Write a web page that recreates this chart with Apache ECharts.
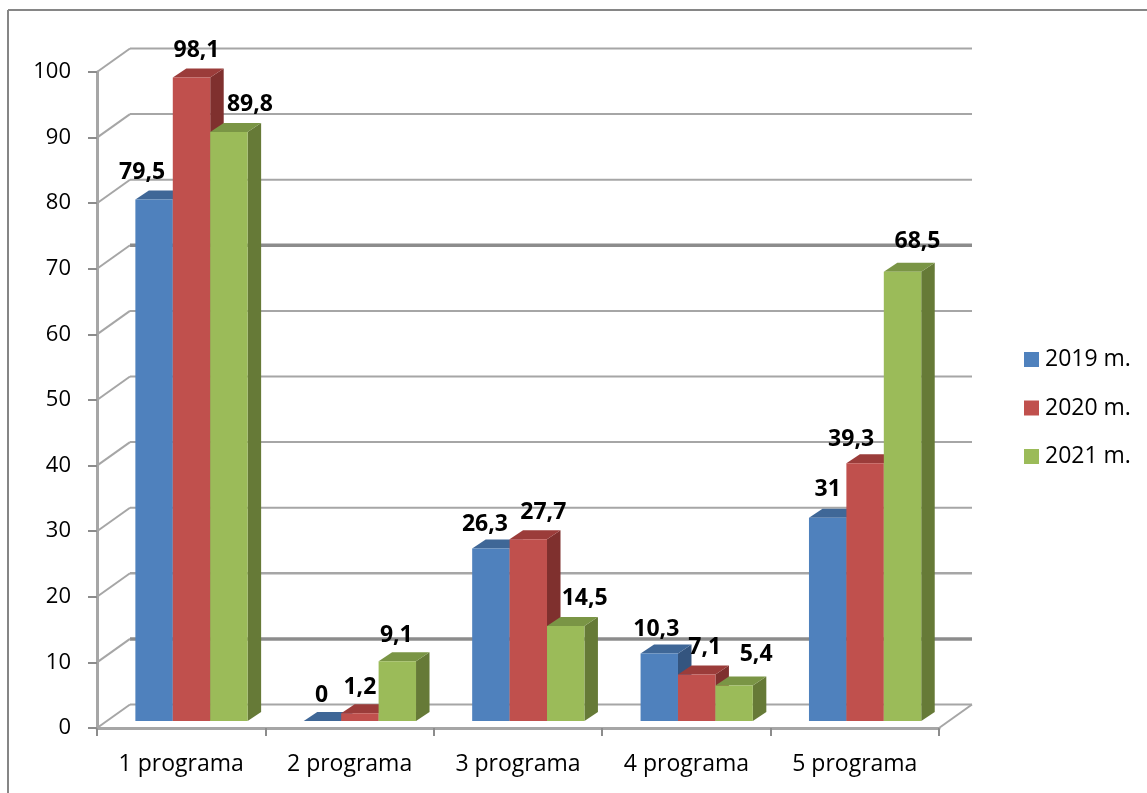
<!DOCTYPE html>
<html><head><meta charset="utf-8">
<style>html,body{margin:0;padding:0;background:#fff}#c{width:1147px;height:793px}</style>
<script src="https://cdn.jsdelivr.net/npm/echarts@6/dist/echarts.min.js"></script>
</head><body><div id="c"></div>
<script>
const categories = ['1 programa','2 programa','3 programa','4 programa','5 programa'];
const seriesNames = ['2019 m.','2020 m.','2021 m.'];
const values2019 = [79.5, 0, 26.3, 10.3, 31];
const values2020 = [98.1, 1.2, 27.7, 7.1, 39.3];
const values2021 = [89.8, 9.1, 14.5, 5.4, 68.5];
const gridTicks = [0,10,20,30,40,50,60,70,80,90,100];

// styling and layout, kept apart from the data
const faces = [
  {front:'#4f81bd', top:'#3f6797', side:'#34557f'},
  {front:'#c0504d', top:'#9b3c3a', side:'#7f302e'},
  {front:'#9bbb59', top:'#7a9545', side:'#667a37'}
];
const labelNudges = [
  [[-12,-27],[-1,-26],[-6,-24],[-3,-24],[0,-28]],
  [[5,-27],[0,-26],[15,-27],[8,-27],[-14,-24]],
  [[21,-27],[-1,-26],[19,-27],[22,-31],[15,-30]]
];
const heavyTicks = {10:3.5, 20:2.5, 70:3.5};
const wall = {dx:33, dy:-23.5};
const depth = {dx:13.5, dy:-9};
const FONT = '"Open Sans", "Noto Sans", sans-serif';
const GRAY = '#a6a6a6';

function wallItem(params, api){
  const v = api.value(0);
  const a = api.coord([0, v]);
  const x0 = params.coordSys.x, x1 = x0 + params.coordSys.width, y = a[1];
  const w = heavyTicks[v] || 2;
  const color = heavyTicks[v] > 3 ? '#8c8c8c' : GRAY;
  const lineStyle = {stroke: color, lineWidth: w, fill: null};
  const thin = {stroke: GRAY, lineWidth: 2, fill: null};
  const kids = [
    {type:'line', shape:{x1:x0+wall.dx, y1:y+wall.dy, x2:x1+wall.dx, y2:y+wall.dy}, style:lineStyle},
    {type:'line', shape:{x1:x0, y1:y, x2:x0+wall.dx, y2:y+wall.dy}, style:thin}
  ];
  if (v === 0) kids.push({type:'line', shape:{x1:x1, y1:y, x2:x1+wall.dx, y2:y+wall.dy}, style:thin});
  return {type:'group', children:kids};
}

function barRenderer(s){
  return function(params, api){
    const c = api.value(0), v = api.value(1);
    const p = api.coord([c, v]), base = api.coord([c, 0]);
    const catW = api.size([1,0])[0];
    const bw = catW * 0.2222;
    const x0 = p[0] + 10.3 + (s - 1.5) * bw, x1 = x0 + bw;
    const yT = p[1] - 7, yB = base[1] - 7;
    const d = depth;
    const n = labelNudges[s][c];
    return {type:'group', children:[
      {type:'polygon', shape:{points:[[x1,yT],[x1+d.dx,yT+d.dy],[x1+d.dx,yB+d.dy],[x1,yB]]}, style:{fill:faces[s].side}},
      {type:'polygon', shape:{points:[[x0,yT],[x0+d.dx,yT+d.dy],[x1+d.dx,yT+d.dy],[x1,yT]]}, style:{fill:faces[s].top}},
      {type:'rect', shape:{x:x0, y:yT, width:bw, height:yB-yT}, style:{fill:faces[s].front}},
      {type:'text', z2:100, style:{
        x:(x0+x1)/2 + n[0], y:yT + n[1],
        text:String(v).replace('.',','),
        fill:'#000', font:'bold 23px '+FONT, align:'center', verticalAlign:'middle'
      }}
    ]};
  };
}

const dataBySeries = [values2019, values2020, values2021];
const chart = echarts.init(document.getElementById('c'), null, {renderer:'canvas'});
chart.setOption({
  animation:false,
  backgroundColor:'#fff',
  grid:{left:97, top:72, width:842, height:656},
  legend:{
    left:1019, top:343, orient:'vertical', itemWidth:15, itemHeight:15, itemGap:25.5,
    icon:'rect', data:seriesNames,
    textStyle:{fontFamily:FONT, fontSize:23, color:'#000', padding:[4,0,0,1]}
  },
  xAxis:{
    type:'category', data:categories, boundaryGap:true,
    axisLine:{lineStyle:{color:GRAY, width:3}},
    axisTick:{show:true, length:8, lineStyle:{color:'#8c8c8c', width:2}},
    axisLabel:{fontFamily:FONT, fontSize:23, color:'#000', margin:25}
  },
  yAxis:{
    type:'value', min:0, max:100, interval:10,
    axisLine:{show:true, lineStyle:{color:GRAY, width:3}},
    axisTick:{show:true, length:9, lineStyle:{color:'#8c8c8c', width:2}},
    splitLine:{show:false},
    axisLabel:{fontFamily:FONT, fontSize:22, color:'#000', margin:26}
  },
  graphic:[
    {type:'line', silent:true, shape:{x1:8,y1:10,x2:8,y2:793}, style:{stroke:'#868686', lineWidth:2}},
    {type:'line', silent:true, shape:{x1:8,y1:10,x2:1147,y2:10}, style:{stroke:'#868686', lineWidth:2}}
  ],
  series:[
    {type:'custom', name:'walls', silent:true, z:1, clip:false, renderItem:wallItem,
     data:gridTicks.map(t=>[t]), encode:{y:0}},
    ...seriesNames.map((name,s)=>({
      type:'custom', name, z:2, clip:false, renderItem:barRenderer(s),
      itemStyle:{color:faces[s].front},
      data:dataBySeries[s].map((v,i)=>[i,v]), encode:{x:0,y:1}
    }))
  ]
});
</script></body></html>
